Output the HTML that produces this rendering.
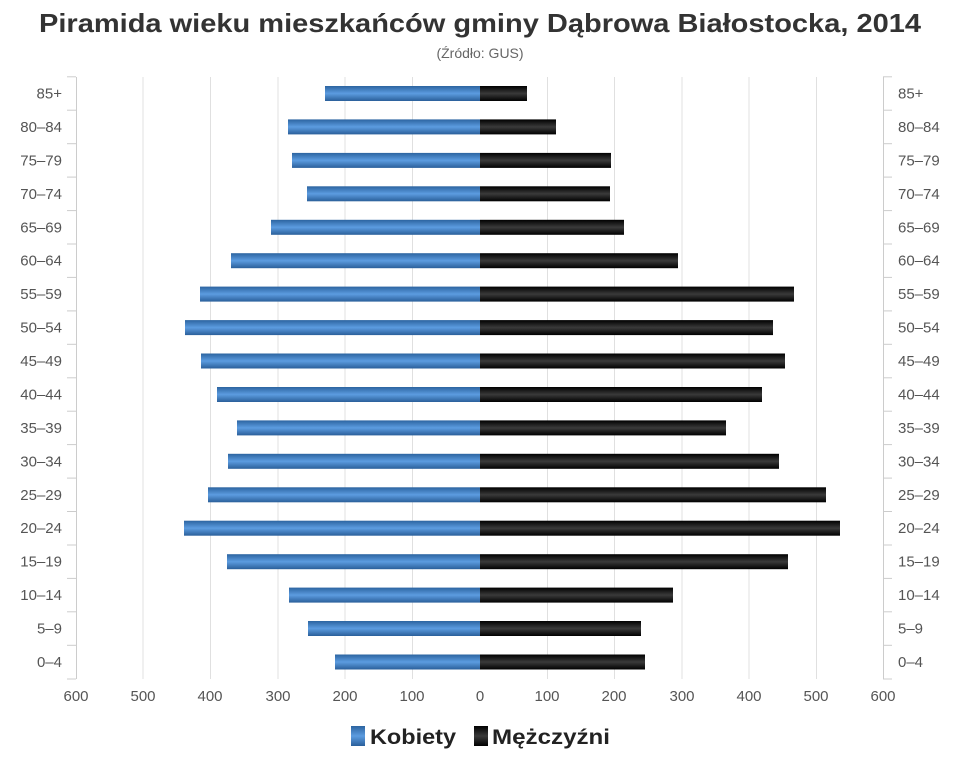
<!DOCTYPE html><html><head><meta charset="utf-8"><style>body{margin:0;background:#fff}svg{display:block}</style></head><body>
<svg width="960" height="768" xmlns="http://www.w3.org/2000/svg" font-family="Liberation Sans, DejaVu Sans, sans-serif">
<defs>
<linearGradient id="b" x1="0" y1="0" x2="0" y2="1"><stop offset="0" stop-color="#2c64a0"/><stop offset="0.5" stop-color="#5c9ce0"/><stop offset="1" stop-color="#2a5f9a"/></linearGradient>
<linearGradient id="k" x1="0" y1="0" x2="0" y2="1"><stop offset="0" stop-color="#000"/><stop offset="0.5" stop-color="#3a3a3a"/><stop offset="1" stop-color="#000"/></linearGradient>
</defs>
<text x="39" y="32" font-size="26" font-weight="bold" fill="#333" textLength="882" lengthAdjust="spacingAndGlyphs">Piramida wieku mieszkańców gminy Dąbrowa Białostocka, 2014</text>
<text x="480" y="58" text-anchor="middle" font-size="14" fill="#666">(Źródło: GUS)</text>
<g stroke="#e0e0e0" stroke-width="1">
<line x1="143" y1="77" x2="143" y2="679"/><line x1="210.5" y1="77" x2="210.5" y2="679"/><line x1="278" y1="77" x2="278" y2="679"/><line x1="345" y1="77" x2="345" y2="679"/><line x1="412.5" y1="77" x2="412.5" y2="679"/>
<line x1="547.5" y1="77" x2="547.5" y2="679"/><line x1="614.5" y1="77" x2="614.5" y2="679"/><line x1="682" y1="77" x2="682" y2="679"/><line x1="749" y1="77" x2="749" y2="679"/><line x1="816.5" y1="77" x2="816.5" y2="679"/>
</g>
<g stroke="#ccc"><line x1="76.5" y1="77" x2="76.5" y2="679"/><line x1="883.5" y1="77" x2="883.5" y2="679"/></g>
<g stroke="#ccc">
<line x1="67" x2="76" y1="76.8" y2="76.8"/><line x1="67" x2="76" y1="110.2" y2="110.2"/><line x1="67" x2="76" y1="143.7" y2="143.7"/><line x1="67" x2="76" y1="177.1" y2="177.1"/><line x1="67" x2="76" y1="210.6" y2="210.6"/><line x1="67" x2="76" y1="244" y2="244"/><line x1="67" x2="76" y1="277.4" y2="277.4"/><line x1="67" x2="76" y1="310.9" y2="310.9"/><line x1="67" x2="76" y1="344.3" y2="344.3"/><line x1="67" x2="76" y1="377.8" y2="377.8"/><line x1="67" x2="76" y1="411.2" y2="411.2"/><line x1="67" x2="76" y1="444.6" y2="444.6"/><line x1="67" x2="76" y1="478.1" y2="478.1"/><line x1="67" x2="76" y1="511.5" y2="511.5"/><line x1="67" x2="76" y1="545" y2="545"/><line x1="67" x2="76" y1="578.4" y2="578.4"/><line x1="67" x2="76" y1="611.8" y2="611.8"/><line x1="67" x2="76" y1="645.3" y2="645.3"/><line x1="67" x2="76" y1="679" y2="679"/>
<line x1="883" x2="892" y1="76.8" y2="76.8"/><line x1="883" x2="892" y1="110.2" y2="110.2"/><line x1="883" x2="892" y1="143.7" y2="143.7"/><line x1="883" x2="892" y1="177.1" y2="177.1"/><line x1="883" x2="892" y1="210.6" y2="210.6"/><line x1="883" x2="892" y1="244" y2="244"/><line x1="883" x2="892" y1="277.4" y2="277.4"/><line x1="883" x2="892" y1="310.9" y2="310.9"/><line x1="883" x2="892" y1="344.3" y2="344.3"/><line x1="883" x2="892" y1="377.8" y2="377.8"/><line x1="883" x2="892" y1="411.2" y2="411.2"/><line x1="883" x2="892" y1="444.6" y2="444.6"/><line x1="883" x2="892" y1="478.1" y2="478.1"/><line x1="883" x2="892" y1="511.5" y2="511.5"/><line x1="883" x2="892" y1="545" y2="545"/><line x1="883" x2="892" y1="578.4" y2="578.4"/><line x1="883" x2="892" y1="611.8" y2="611.8"/><line x1="883" x2="892" y1="645.3" y2="645.3"/><line x1="883" x2="892" y1="679" y2="679"/>
</g>
<g fill="url(#b)">
<rect x="325" y="86" width="155" height="15"/><rect x="288" y="119.4" width="192" height="15"/><rect x="292" y="152.9" width="188" height="15"/><rect x="307" y="186.3" width="173" height="15"/><rect x="271" y="219.8" width="209" height="15"/><rect x="231" y="253.2" width="249" height="15"/><rect x="200" y="286.6" width="280" height="15"/><rect x="185" y="320.1" width="295" height="15"/><rect x="201" y="353.5" width="279" height="15"/><rect x="217" y="387" width="263" height="15"/><rect x="237" y="420.4" width="243" height="15"/><rect x="228" y="453.8" width="252" height="15"/><rect x="208" y="487.3" width="272" height="15"/><rect x="184" y="520.7" width="296" height="15"/><rect x="227" y="554.2" width="253" height="15"/><rect x="289" y="587.6" width="191" height="15"/><rect x="308" y="621" width="172" height="15"/><rect x="335" y="654.5" width="145" height="15"/>
</g>
<g fill="url(#k)">
<rect x="480" y="86" width="47" height="15"/><rect x="480" y="119.4" width="76" height="15"/><rect x="480" y="152.9" width="131" height="15"/><rect x="480" y="186.3" width="130" height="15"/><rect x="480" y="219.8" width="144" height="15"/><rect x="480" y="253.2" width="198" height="15"/><rect x="480" y="286.6" width="314" height="15"/><rect x="480" y="320.1" width="293" height="15"/><rect x="480" y="353.5" width="305" height="15"/><rect x="480" y="387" width="282" height="15"/><rect x="480" y="420.4" width="246" height="15"/><rect x="480" y="453.8" width="299" height="15"/><rect x="480" y="487.3" width="346" height="15"/><rect x="480" y="520.7" width="360" height="15"/><rect x="480" y="554.2" width="308" height="15"/><rect x="480" y="587.6" width="193" height="15"/><rect x="480" y="621" width="161" height="15"/><rect x="480" y="654.5" width="165" height="15"/>
</g>
<g font-size="15" fill="#555" text-anchor="end">
<text x="62" y="98.5">85+</text><text x="62" y="131.9">80–84</text><text x="62" y="165.4">75–79</text><text x="62" y="198.8">70–74</text><text x="62" y="232.3">65–69</text><text x="62" y="265.7">60–64</text><text x="62" y="299.1">55–59</text><text x="62" y="332.6">50–54</text><text x="62" y="366">45–49</text><text x="62" y="399.5">40–44</text><text x="62" y="432.9">35–39</text><text x="62" y="466.3">30–34</text><text x="62" y="499.8">25–29</text><text x="62" y="533.2">20–24</text><text x="62" y="566.7">15–19</text><text x="62" y="600.1">10–14</text><text x="62" y="633.5">5–9</text><text x="62" y="667">0–4</text>
</g>
<g font-size="15" fill="#555">
<text x="898" y="98.5">85+</text><text x="898" y="131.9">80–84</text><text x="898" y="165.4">75–79</text><text x="898" y="198.8">70–74</text><text x="898" y="232.3">65–69</text><text x="898" y="265.7">60–64</text><text x="898" y="299.1">55–59</text><text x="898" y="332.6">50–54</text><text x="898" y="366">45–49</text><text x="898" y="399.5">40–44</text><text x="898" y="432.9">35–39</text><text x="898" y="466.3">30–34</text><text x="898" y="499.8">25–29</text><text x="898" y="533.2">20–24</text><text x="898" y="566.7">15–19</text><text x="898" y="600.1">10–14</text><text x="898" y="633.5">5–9</text><text x="898" y="667">0–4</text>
</g>
<g font-size="15" fill="#555" text-anchor="middle">
<text x="76" y="701">600</text><text x="143" y="701">500</text><text x="210" y="701">400</text><text x="278" y="701">300</text><text x="345" y="701">200</text><text x="412" y="701">100</text><text x="480" y="701">0</text><text x="547" y="701">100</text><text x="614" y="701">200</text><text x="682" y="701">300</text><text x="749" y="701">400</text><text x="816" y="701">500</text><text x="883" y="701">600</text>
</g>
<rect x="351" y="726" width="14" height="20" fill="url(#b)"/>
<text x="370" y="744" font-size="21" font-weight="bold" fill="#222" textLength="86" lengthAdjust="spacingAndGlyphs">Kobiety</text>
<rect x="474" y="726" width="14" height="20" fill="url(#k)"/>
<text x="492" y="744" font-size="21" font-weight="bold" fill="#222" textLength="118" lengthAdjust="spacingAndGlyphs">Mężczyźni</text>
</svg></body></html>
